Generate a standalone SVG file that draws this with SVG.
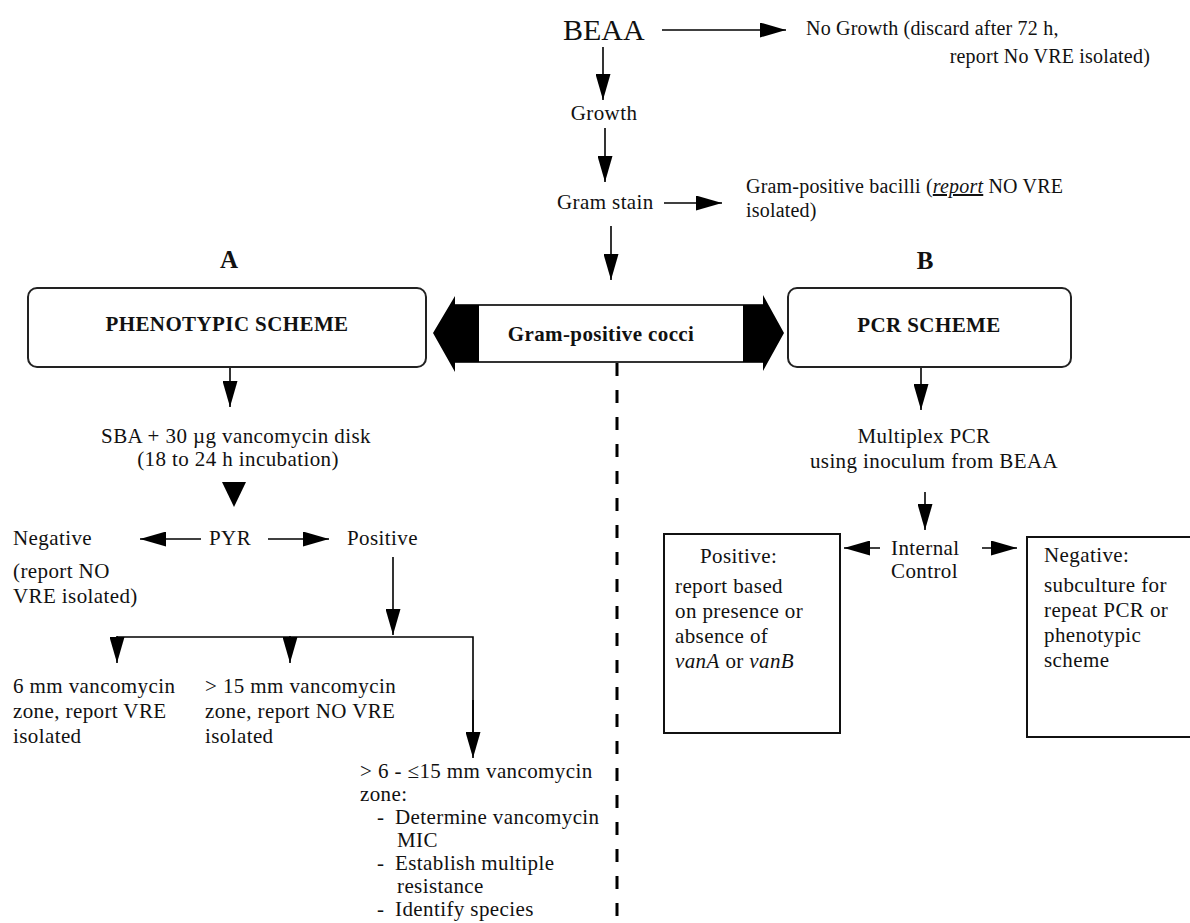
<svg xmlns="http://www.w3.org/2000/svg" width="1190" height="923" viewBox="0 0 1190 923">
<defs>
<marker id="ah" markerUnits="userSpaceOnUse" markerWidth="26" markerHeight="15" refX="26" refY="7.5" orient="auto">
<path d="M0,0 L26,7.5 L0,15 z" fill="#000"/>
</marker>
<style>
text{font-family:"Liberation Serif","Times New Roman",serif;font-size:21px;fill:#111;letter-spacing:0.4px}
.b{font-weight:bold}
.big{font-size:30px;letter-spacing:0}
.hd{font-size:25px;font-weight:bold;letter-spacing:0}
.sm{font-size:20px;letter-spacing:0.2px}
.c{text-anchor:middle}
.e{text-anchor:end}
.i{font-style:italic}
.ln{stroke:#000;stroke-width:1.6;fill:none}
.arr{stroke:#000;stroke-width:1.6;fill:none;marker-end:url(#ah)}
.box{fill:#fff;stroke:#222;stroke-width:2}
</style>
</defs>
<rect width="1190" height="923" fill="#fff"/>

<g id="connectors">
<line class="arr" x1="662" y1="30" x2="786" y2="30"/>
<line class="arr" x1="603" y1="47" x2="603" y2="100"/>
<line class="arr" x1="605" y1="128" x2="605" y2="182"/>
<line class="arr" x1="664" y1="203" x2="722" y2="203"/>
<line class="arr" x1="611" y1="226" x2="611" y2="280"/>
<line class="arr" x1="230" y1="367" x2="230" y2="407"/>
<polygon points="222,482 246,482 234,507" fill="#000"/>
<line class="arr" x1="201" y1="539" x2="140" y2="539"/>
<line class="arr" x1="268" y1="539" x2="329" y2="539"/>
<line class="arr" x1="393" y1="557" x2="393" y2="635"/>
<polyline class="ln" points="117,637 473,637 473,735"/>
<line class="arr" x1="117" y1="636" x2="117" y2="663"/>
<line class="arr" x1="290" y1="636" x2="290" y2="663"/>
<line class="arr" x1="473" y1="700" x2="473" y2="758"/>
<line class="arr" x1="921" y1="368" x2="921" y2="410"/>
<line class="arr" x1="925" y1="492" x2="925" y2="530"/>
<line class="arr" x1="880" y1="548" x2="844" y2="548"/>
<line class="arr" x1="982" y1="548" x2="1017" y2="548"/>
<line x1="617" y1="363" x2="617" y2="923" stroke="#000" stroke-width="3" stroke-dasharray="13,14"/>
</g>

<g id="beaa"><text class="big" x="563" y="40">BEAA</text></g>
<g id="no-growth">
<text class="sm" x="806" y="35">No Growth (discard after 72 h,</text>
<text class="sm e" x="1150" y="63">report No VRE isolated)</text>
</g>
<g id="growth"><text class="c" x="604" y="120">Growth</text></g>
<g id="gram-stain"><text x="557" y="209">Gram stain</text></g>
<g id="bacilli">
<text class="sm" x="746" y="193">Gram-positive bacilli (<tspan class="i" text-decoration="underline">report</tspan> NO VRE</text>
<text class="sm" x="746" y="217">isolated)</text>
</g>

<g id="label-a"><text class="hd c" x="229" y="268">A</text></g>
<g id="label-b"><text class="hd c" x="925" y="269">B</text></g>

<g id="phenotypic">
<rect class="box" x="28" y="288" width="398" height="79" rx="9"/>
<text class="b c" x="227" y="331">PHENOTYPIC SCHEME</text>
</g>

<g id="gram-positive-cocci">
<rect x="455" y="305" width="308" height="57" fill="#fff" stroke="#000" stroke-width="1.6"/>
<polygon points="433,333 455,296 455,305 479,305 479,362 455,362 455,372" fill="#000"/>
<polygon points="784,333 763,295 763,305 743,305 743,362 763,362 763,371" fill="#000"/>
<text class="b c" x="601" y="341">Gram-positive cocci</text>
</g>

<g id="pcr">
<rect class="box" x="788" y="288" width="283" height="79" rx="9"/>
<text class="b c" x="929" y="332">PCR SCHEME</text>
</g>

<g id="sba">
<text class="c" x="236" y="443">SBA + 30 µg vancomycin disk</text>
<text class="c" x="238" y="466">(18 to 24 h incubation)</text>
</g>

<g id="pyr"><text x="209" y="545">PYR</text></g>
<g id="negative">
<text x="13" y="545">Negative</text>
<text x="13" y="578">(report NO</text>
<text x="13" y="603">VRE isolated)</text>
</g>
<g id="positive"><text x="347" y="545">Positive</text></g>

<g id="zone-6">
<text x="13" y="693">6 mm vancomycin</text>
<text x="13" y="718">zone, report VRE</text>
<text x="13" y="743">isolated</text>
</g>
<g id="zone-15">
<text x="205" y="693">&gt; 15 mm vancomycin</text>
<text x="205" y="718">zone, report NO VRE</text>
<text x="205" y="743">isolated</text>
</g>
<g id="zone-mid">
<text x="360" y="778">&gt; 6 - ≤15 mm vancomycin</text>
<text x="360" y="801">zone:</text>
<text x="377" y="824">-</text><text x="395" y="824">Determine vancomycin</text>
<text x="397" y="847">MIC</text>
<text x="377" y="870">-</text><text x="395" y="870">Establish multiple</text>
<text x="397" y="893">resistance</text>
<text x="377" y="916">-</text><text x="395" y="916">Identify species</text>
</g>

<g id="multiplex">
<text class="c" x="924" y="443">Multiplex PCR</text>
<text class="c" x="934" y="468">using inoculum from  BEAA</text>
</g>

<g id="internal-control">
<text x="891" y="555">Internal</text>
<text x="891" y="578">Control</text>
</g>

<g id="pcr-positive">
<rect x="664" y="534" width="176" height="199" fill="#fff" stroke="#111" stroke-width="2"/>
<text x="700" y="563">Positive:</text>
<text x="675" y="593">report based</text>
<text x="675" y="618">on presence or</text>
<text x="675" y="643">absence of</text>
<text x="675" y="668"><tspan class="i">vanA</tspan> or <tspan class="i">vanB</tspan></text>
</g>

<g id="pcr-negative">
<rect x="1027" y="537" width="170" height="200" fill="#fff" stroke="#111" stroke-width="2"/>
<text x="1044" y="562">Negative:</text>
<text x="1044" y="592">subculture for</text>
<text x="1044" y="617">repeat PCR or</text>
<text x="1044" y="642">phenotypic</text>
<text x="1044" y="667">scheme</text>
</g>
</svg>
